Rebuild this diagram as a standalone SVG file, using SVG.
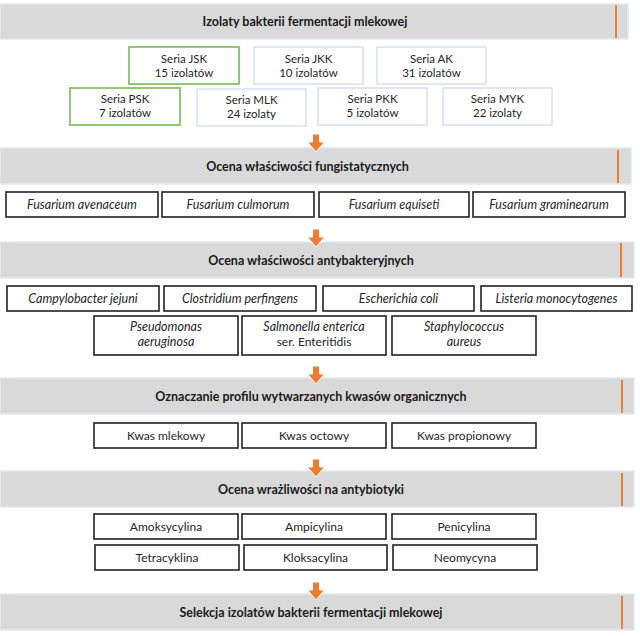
<svg xmlns="http://www.w3.org/2000/svg" width="640" height="636" viewBox="0 0 640 636">
<defs>
<style>
.banner{fill:#d9d9d9;stroke:#e2e8f2;stroke-width:1.5}
.mark{stroke:#ed7d31;stroke-width:2}
.title{font-family:Lato,"Liberation Sans",sans-serif;font-weight:bold;font-size:12.5px;fill:#1a1a1a;text-anchor:middle}
.sbox{fill:#ffffff;stroke:#d6e0f0;stroke-width:1.5}
.gbox{fill:#ffffff;stroke:#86c166;stroke-width:1.8}
.box{fill:#ffffff;stroke:#222222;stroke-width:1.6}
.t{font-family:Lato,"Liberation Sans",sans-serif;font-size:12px;fill:#262626;text-anchor:middle}
.s{font-size:11.5px}
.i{font-style:italic;font-size:12.5px}
.arrow{fill:#ed7d31;stroke:#ffffff;stroke-width:1}
</style>
<path id="arr" d="M312.5 0 H319.5 V8 H324.5 L316 18 L307.5 8 H312.5 Z"/>
</defs>
<rect width="640" height="636" fill="#ffffff"/>

<g id="step1">
<rect class="banner" x="0" y="4" width="628" height="35"/>
<line class="mark" x1="616" y1="5" x2="616" y2="38"/>
<text class="title" x="305" y="26">Izolaty bakterii fermentacji mlekowej</text>
</g>
<g id="jsk"><rect class="gbox" x="129" y="47" width="110" height="37"/><text class="t s" x="184" y="63">Seria JSK</text><text class="t s" x="184" y="77">15 izolatów</text></g>
<g id="jkk"><rect class="sbox" x="254" y="47" width="109" height="37"/><text class="t s" x="308.5" y="63">Seria JKK</text><text class="t s" x="308.5" y="77">10 izolatów</text></g>
<g id="ak"><rect class="sbox" x="377" y="47" width="109" height="37"/><text class="t s" x="431.5" y="63">Seria AK</text><text class="t s" x="431.5" y="77">31 izolatów</text></g>
<g id="psk"><rect class="gbox" x="70" y="88" width="110" height="37"/><text class="t s" x="125" y="103">Seria PSK</text><text class="t s" x="125" y="117">7 izolatów</text></g>
<g id="mlk"><rect class="sbox" x="197" y="89" width="109" height="37"/><text class="t s" x="251.5" y="104">Seria MLK</text><text class="t s" x="251.5" y="118">24 izolaty</text></g>
<g id="pkk"><rect class="sbox" x="318" y="88" width="109" height="37"/><text class="t s" x="372.5" y="103">Seria PKK</text><text class="t s" x="372.5" y="117">5 izolatów</text></g>
<g id="myk"><rect class="sbox" x="443" y="88" width="109" height="37"/><text class="t s" x="497.5" y="103">Seria MYK</text><text class="t s" x="497.5" y="117">22 izolaty</text></g>

<g id="step2">
<rect class="banner" x="0" y="148" width="631" height="36"/>
<line class="mark" x1="618" y1="150" x2="618" y2="183"/>
<text class="title" x="307.5" y="170.5">Ocena właściwości fungistatycznych</text>
</g>
<g id="f1"><rect class="box" x="6" y="192" width="152" height="25"/><text class="t i" x="82" y="208.5">Fusarium avenaceum</text></g>
<g id="f2"><rect class="box" x="162" y="192" width="152" height="25"/><text class="t i" x="238" y="208.5">Fusarium culmorum</text></g>
<g id="f3"><rect class="box" x="319" y="192" width="150" height="25"/><text class="t i" x="394" y="208.5">Fusarium equiseti</text></g>
<g id="f4"><rect class="box" x="473" y="192" width="152" height="25"/><text class="t i" x="549" y="208.5">Fusarium graminearum</text></g>

<g id="step3">
<rect class="banner" x="0" y="242" width="634" height="36"/>
<line class="mark" x1="621" y1="243" x2="621" y2="277"/>
<text class="title" x="311" y="264.5">Ocena właściwości antybakteryjnych</text>
</g>
<g id="b1"><rect class="box" x="7" y="286" width="152" height="25"/><text class="t i" x="83" y="302.5">Campylobacter jejuni</text></g>
<g id="b2"><rect class="box" x="164" y="286" width="152" height="25"/><text class="t i" x="240" y="302.5">Clostridium perfingens</text></g>
<g id="b3"><rect class="box" x="323" y="286" width="151" height="25"/><text class="t i" x="398.5" y="302.5">Escherichia coli</text></g>
<g id="b4"><rect class="box" x="481" y="286" width="151" height="25"/><text class="t i" x="556.5" y="302.5">Listeria monocytogenes</text></g>
<g id="b5"><rect class="box" x="94" y="316" width="144" height="39"/><text class="t i" x="166" y="331">Pseudomonas</text><text class="t i" x="166" y="346">aeruginosa</text></g>
<g id="b6"><rect class="box" x="242" y="316" width="144" height="39"/><text class="t i" x="314" y="331">Salmonella enterica</text><text class="t" x="314" y="346">ser. Enteritidis</text></g>
<g id="b7"><rect class="box" x="392" y="316" width="144" height="39"/><text class="t i" x="464" y="331">Staphylococcus</text><text class="t i" x="464" y="346">aureus</text></g>

<g id="step4">
<rect class="banner" x="0" y="378" width="634" height="36"/>
<line class="mark" x1="622" y1="380" x2="622" y2="413"/>
<text class="title" x="311" y="400.5">Oznaczanie profilu wytwarzanych kwasów organicznych</text>
</g>
<g id="k1"><rect class="box" x="94" y="423" width="144" height="25"/><text class="t" x="166" y="439.5">Kwas mlekowy</text></g>
<g id="k2"><rect class="box" x="242" y="423" width="144" height="25"/><text class="t" x="314" y="439.5">Kwas octowy</text></g>
<g id="k3"><rect class="box" x="392" y="423" width="144" height="25"/><text class="t" x="464" y="439.5">Kwas propionowy</text></g>

<g id="step5">
<rect class="banner" x="0" y="471" width="634" height="36"/>
<line class="mark" x1="622" y1="473" x2="622" y2="506"/>
<text class="title" x="311" y="493.5">Ocena wrażliwości na antybiotyki</text>
</g>
<g id="a1"><rect class="box" x="94" y="514" width="144" height="25"/><text class="t" x="166" y="530.5">Amoksycylina</text></g>
<g id="a2"><rect class="box" x="242" y="514" width="144" height="25"/><text class="t" x="314" y="530.5">Ampicylina</text></g>
<g id="a3"><rect class="box" x="392" y="514" width="144" height="25"/><text class="t" x="464" y="530.5">Penicylina</text></g>
<g id="a4"><rect class="box" x="95" y="545" width="144" height="25"/><text class="t" x="167" y="561.5">Tetracyklina</text></g>
<g id="a5"><rect class="box" x="244" y="545" width="143" height="25"/><text class="t" x="315.5" y="561.5">Kloksacylina</text></g>
<g id="a6"><rect class="box" x="393" y="545" width="144" height="25"/><text class="t" x="465" y="561.5">Neomycyna</text></g>

<g id="step6">
<rect class="banner" x="0" y="594" width="634" height="36"/>
<line class="mark" x1="622" y1="596" x2="622" y2="629"/>
<text class="title" x="311" y="616.5">Selekcja izolatów bakterii fermentacji mlekowej</text>
</g>

<g id="connectors">
<use href="#arr" class="arrow" y="134"/>
<use href="#arr" class="arrow" y="229"/>
<use href="#arr" class="arrow" y="366"/>
<use href="#arr" class="arrow" y="459"/>
<use href="#arr" class="arrow" y="582"/>
</g>
</svg>
